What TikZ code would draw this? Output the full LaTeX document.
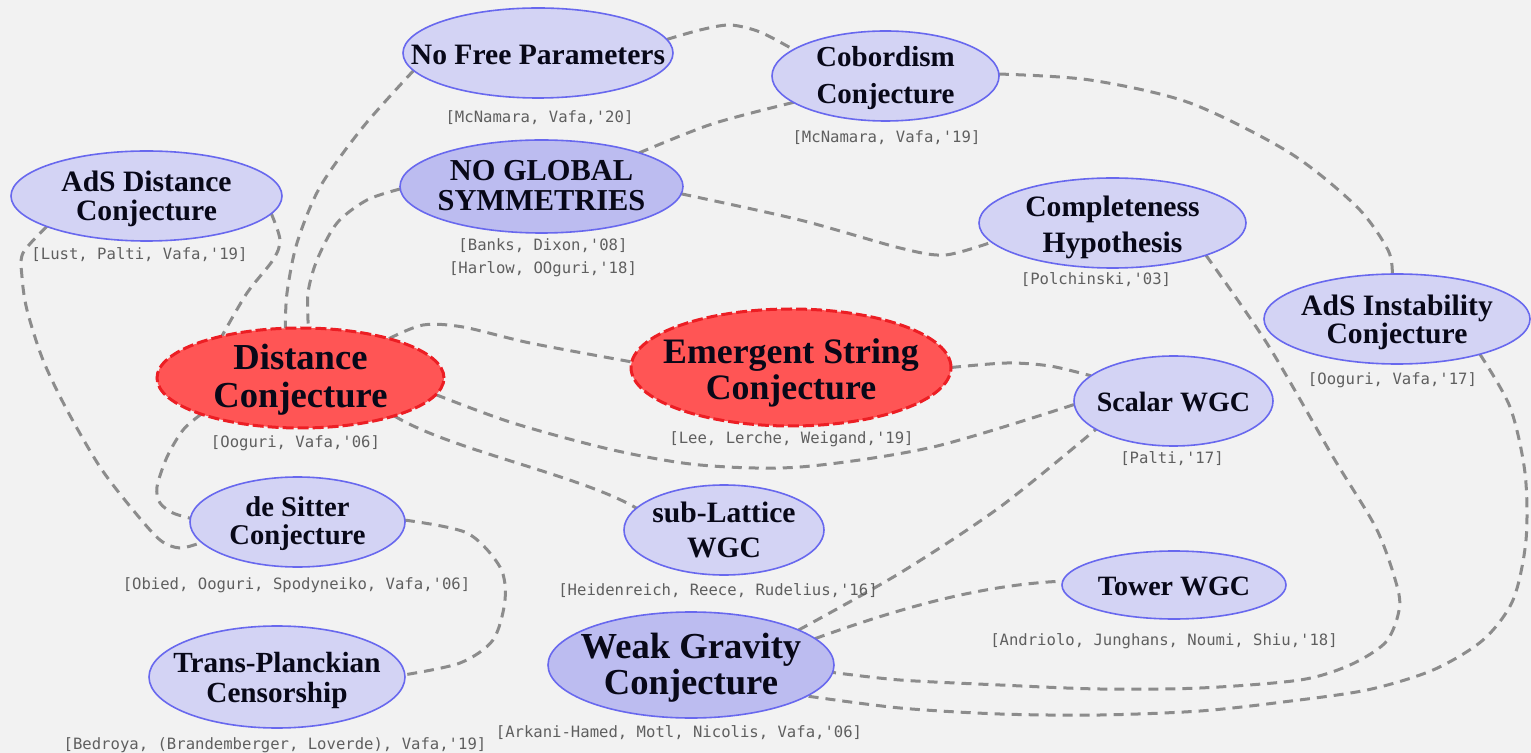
\documentclass[tikz,border=0pt]{standalone}
\usepackage{fontspec}
\setmainfont{Liberation Serif}
\newfontfamily\citefont{DejaVu Sans Mono}
\usetikzlibrary{shapes.geometric}
\definecolor{bgcol}{RGB}{242,242,242}
\definecolor{lightfill}{RGB}{211,211,244}
\definecolor{darkfill}{RGB}{188,188,240}
\definecolor{bordcol}{RGB}{104,104,238}
\definecolor{redfill}{RGB}{255,85,85}
\definecolor{redborder}{RGB}{236,30,36}
\definecolor{edgecol}{RGB}{140,140,140}
\definecolor{textcol}{RGB}{8,8,24}
\definecolor{citecol}{RGB}{95,95,95}
\newcommand{\fsz}[2]{\fontsize{#1}{#2}\selectfont}
\pgfdeclarelayer{back}
\pgfdeclarelayer{edges}
\pgfsetlayers{back,edges,main}
\begin{document}
\begin{tikzpicture}[x=0.5pt,y=-0.5pt,
  conj/.style={ellipse, draw=bordcol, line width=0.8pt, fill=lightfill, inner sep=0pt, outer sep=0pt},
  dark/.style={conj, fill=darkfill},
  hot/.style={ellipse, draw=redborder, fill=redfill, line width=1.5pt, dash pattern=on 5.5pt off 2pt, inner sep=0pt, outer sep=0pt},
  lbl/.style={align=center, text=textcol, inner sep=0pt},
  cite/.style={font=\citefont\fsz{7.8}{11.5}, text=citecol, inner sep=0pt, align=center},
  edge/.style={draw=edgecol, line width=1.5pt, dash pattern=on 5pt off 3.5pt}]
\begin{pgfonlayer}{back}
\fill[bgcol] (0,0) rectangle (1531,753);
\end{pgfonlayer}
\useasboundingbox (0,0) rectangle (1531,753);

% ellipses
\node[conj, minimum width=135pt, minimum height=45pt] (nfp) at (538,53) {};
\node[conj, minimum width=113.5pt, minimum height=45pt] (cob) at (885.5,76) {};
\node[conj, minimum width=135.5pt, minimum height=45pt] (adsd) at (146.5,196) {};
\node[dark, minimum width=141.5pt, minimum height=46.5pt] (ngs) at (541.5,186.5) {};
\node[conj, minimum width=133.5pt, minimum height=45pt] (comp) at (1112.5,223) {};
\node[conj, minimum width=133pt, minimum height=45pt] (adsi) at (1397,319) {};
\node[hot, minimum width=143.5pt, minimum height=50pt] (dc) at (300.5,378) {};
\node[hot, minimum width=160pt, minimum height=58.5pt] (esc) at (791,367.5) {};
\node[conj, minimum width=99.5pt, minimum height=45pt] (swgc) at (1173.5,401) {};
\node[conj, minimum width=107.5pt, minimum height=45pt] (ds) at (297.5,522) {};
\node[conj, minimum width=100pt, minimum height=45pt] (subl) at (724,530) {};
\node[conj, minimum width=112pt, minimum height=34pt] (tow) at (1174,585) {};
\node[conj, minimum width=128pt, minimum height=51pt] (tpc) at (277,677) {};
\node[dark, minimum width=143pt, minimum height=53pt] (wgc) at (691,665) {};

% labels
\node[lbl, font=\bfseries\fsz{14.8}{18}] (nfp-t) at (538,55) {No Free Parameters};
\node[lbl, font=\bfseries\fsz{14.5}{18.5}] (cob-t) at (885.5,78) {Cobordism\\Conjecture};
\node[lbl, font=\bfseries\fsz{14.8}{14.5}] (adsd-t) at (146.5,199) {AdS Distance\\Conjecture};
\node[lbl, font=\bfseries\fsz{15.2}{15}] (ngs-t) at (541.5,186) {NO GLOBAL\\SYMMETRIES};
\node[lbl, font=\bfseries\fsz{14.8}{18}] (comp-t) at (1112.5,227) {Completeness\\Hypothesis};
\node[lbl, font=\bfseries\fsz{14.8}{14}] (adsi-t) at (1397,322) {AdS Instability\\Conjecture};
\node[lbl, font=\bfseries\fsz{18.3}{19}] (dc-t) at (300.5,380) {Distance\\Conjecture};
\node[lbl, font=\bfseries\fsz{17.9}{18}] (esc-t) at (791,373) {Emergent String\\Conjecture};
\node[lbl, font=\bfseries\fsz{14}{17}] (swgc-t) at (1173.5,402) {Scalar WGC};
\node[lbl, font=\bfseries\fsz{14.3}{14}] (ds-t) at (297.5,524) {de Sitter\\Conjecture};
\node[lbl, font=\bfseries\fsz{14.8}{17.5}] (subl-t) at (724,530) {sub-Lattice\\WGC};
\node[lbl, font=\bfseries\fsz{14}{17}] (tow-t) at (1174,586) {Tower WGC};
\node[lbl, font=\bfseries\fsz{14.6}{15}] (tpc-t) at (277,680) {Trans-Planckian\\Censorship};
\node[lbl, font=\bfseries\fsz{18.3}{18}] (wgc-t) at (691,668) {Weak Gravity\\Conjecture};

% citations
\node[cite] (nfp-c) at (539.5,118) {[McNamara, Vafa,'20]};
\node[cite] (cob-c) at (886.5,138) {[McNamara, Vafa,'19]};
\node[cite] (adsd-c) at (139.5,255) {[Lust, Palti, Vafa,'19]};
\node[cite] (ngs-c) at (543,257.5) {[Banks, Dixon,'08]\\\relax[Harlow, OOguri,'18]};
\node[cite] (comp-c) at (1096,280) {[Polchinski,'03]};
\node[cite] (adsi-c) at (1392.5,380) {[Ooguri, Vafa,'17]};
\node[cite] (dc-c) at (295.5,443) {[Ooguri, Vafa,'06]};
\node[cite] (esc-c) at (791.5,439) {[Lee, Lerche, Weigand,'19]};
\node[cite] (swgc-c) at (1172,459) {[Palti,'17]};
\node[cite] (ds-c) at (296.5,585) {[Obied, Ooguri, Spodyneiko, Vafa,'06]};
\node[cite] (subl-c) at (718,591) {[Heidenreich, Reece, Rudelius,'16]};
\node[cite] (tow-c) at (1164,641) {[Andriolo, Junghans, Noumi, Shiu,'18]};
\node[cite] (tpc-c) at (275,745) {[Bedroya, (Brandemberger, Loverde), Vafa,'19]};
\node[cite] (wgc-c) at (679,733) {[Arkani-Hamed, Motl, Nicolis, Vafa,'06]};

% connectors
\begin{pgfonlayer}{edges}
\draw[edge] plot[smooth] coordinates {(nfp.6) (700,30) (730,25) (760,32) (cob.164)};
\draw[edge] plot[smooth] coordinates {(cob.196) (712,124) (ngs.19)};
\draw[edge] plot[smooth] coordinates {(ngs.-3) (800,220) (900,248) (945,255) (comp.189)};
\draw[edge] plot[smooth] coordinates {(cob.1) (1090,80) (1190,103) (1290,153) (1357,207) (1388,250) (adsi.96)};
\draw[edge] plot[smooth] coordinates {(comp.-19) (1268,345) (1333,457) (1377,530) (1398,590) (1398,615) (1385,643) (1350,665) (1300,680) (1200,688) (1100,689) (1000,685) (900,680) (wgc.-3)};
\draw[edge] plot[smooth] coordinates {(adsi.-23) (1510,407) (1525,473) (1526,540) (1513,600) (1483,640) (1433,670) (1367,690) (1283,702) (1200,711) (1100,715) (1000,714) (900,708) (wgc.-15)};
\draw[edge] (wgc.12) .. controls (900,608) and (980,585) .. (tow.178);
\draw[edge] plot[smooth] coordinates {(wgc.18) (900,573) (1000,507) (swgc.200)};
\draw[edge] plot[smooth] coordinates {(dc.-7) (513,423) (613,450) (700,465) (800,467) (933,447) (swgc.182)};
\draw[edge] (dc.-22) .. controls (450,450) and (580,475) .. (subl.166);
\draw[edge] plot[smooth] coordinates {(dc.24) (423,325) (463,327) (530,343) (esc.178)};
\draw[edge] plot[smooth] coordinates {(esc.0) (1007,363) (1050,366) (swgc.163)};
\draw[edge] plot[smooth] coordinates {(adsd.-8) (280,240) (273,260) (247,293) (dc.152)};
\draw[edge] plot[smooth] coordinates {(nfp.188) (363,127) (320,187) (297,243) (287,293) (dc.107)};
\draw[edge] plot[smooth] coordinates {(ngs.181) (367,200) (337,223) (317,260) (308,293) (dc.81)};
\draw[edge] plot[smooth] coordinates {(adsd.197) (23,253) (22,277) (27,310) (43,360) (67,410) (100,467) (133,510) (160,540) (180,548) (ds.192)};
\draw[edge] plot[smooth] coordinates {(dc.200) (183,430) (167,457) (157,487) (160,503) (173,513) (ds.178)};
\draw[edge] plot[smooth] coordinates {(ds.1) (467,533) (500,567) (505,600) (493,640) (460,663) (tpc.1)};
\end{pgfonlayer}
\end{tikzpicture}
\end{document}
